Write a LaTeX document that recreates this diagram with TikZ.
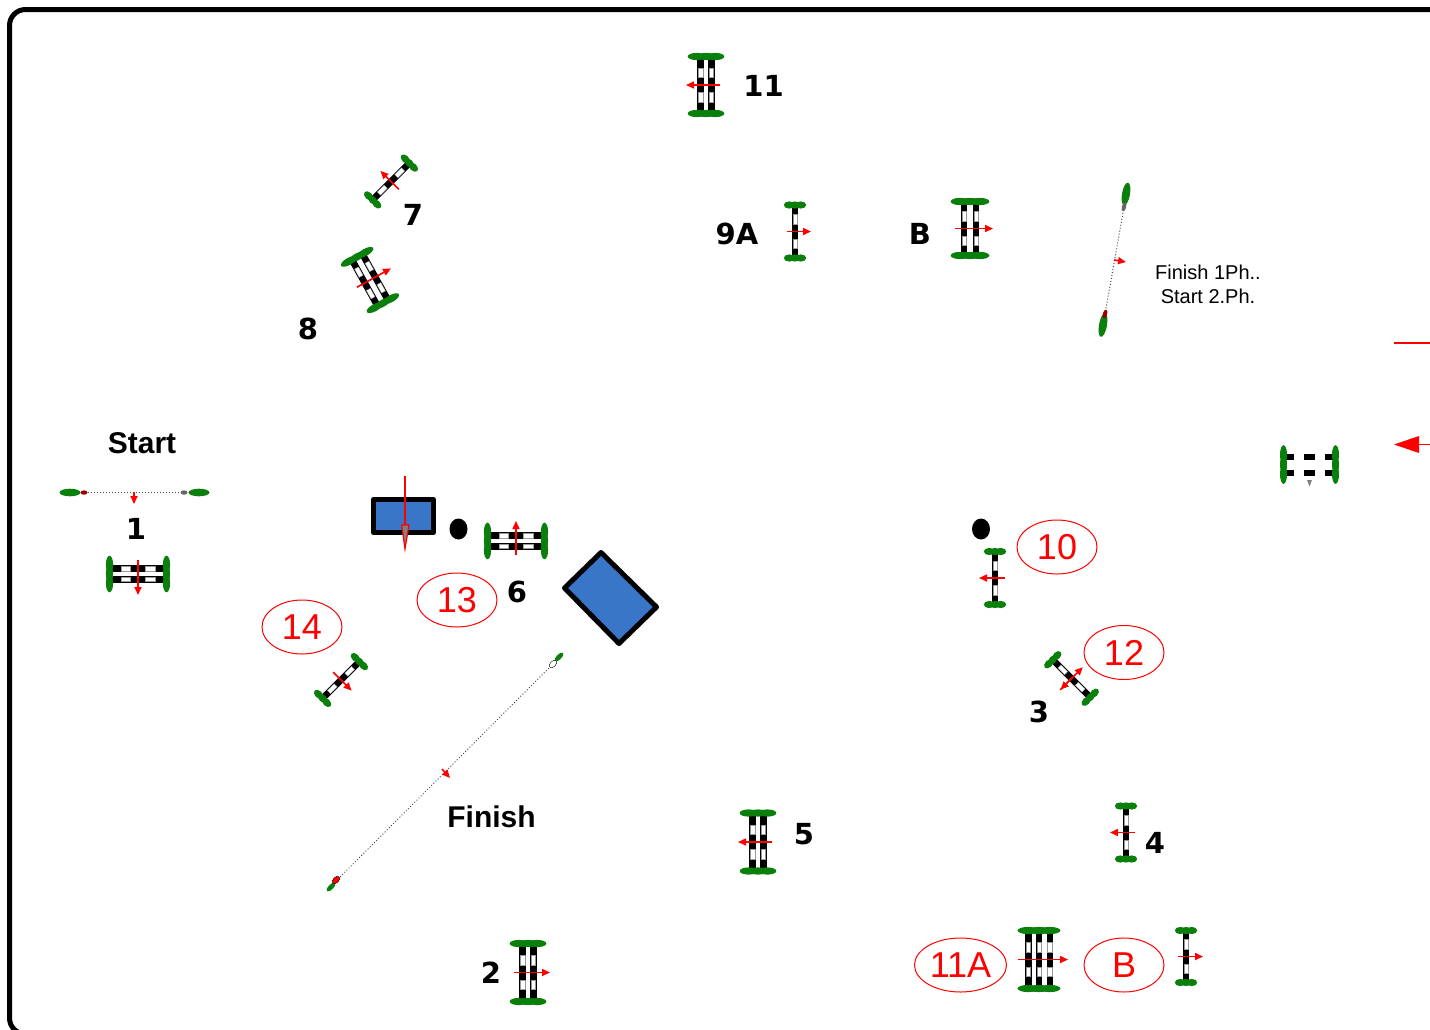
\documentclass[tikz,border=0pt]{standalone}
\usepackage{fontspec}
\setmainfont{Liberation Sans}
\newfontfamily\numfont{DejaVu Sans}
\usetikzlibrary{arrows.meta}
\usetikzlibrary{shapes.geometric}

\definecolor{wing}{HTML}{0B7F0B}
\definecolor{pool}{HTML}{3A76C8}

\tikzset{
  boldlabel/.style={font=\numfont\bfseries\fontsize{29}{29}\selectfont, text=black, inner sep=0pt},
  textlabel/.style={font=\bfseries\fontsize{30}{30}\selectfont, text=black, inner sep=0pt},
  notelabel/.style={font=\fontsize{20}{24}\selectfont, text=black, inner sep=0pt, align=center},
  redlabel/.style={draw=red, line width=1, ellipse, text=red, inner sep=0pt, minimum width=80, minimum height=54, font=\fontsize{36}{36}\selectfont},
  runarrow/.style={draw=red, line width=1.6, -{Triangle[length=8pt,width=7pt,fill=red]}},
  dotline/.style={draw=black!70, line width=1, dotted},
  poolbox/.style={draw=black, line width=5, fill=pool, line join=round},
  pics/fence/.style n args={6}{code={
    % #1 rails, #2 gap, #3 half length, #4 wing half width, #5,#6 arrow along local x
    \foreach \railno in {1,...,#1}{
      \pgfmathsetmacro{\xr}{(\railno-(#1+1)/2)*#2}
      \fill[black] (\xr-3.3,-#3) rectangle (\xr+3.3,#3);
      \foreach \sgn in {-1,1}{
        \fill[white,draw=black!40,line width=0.4] (\xr-2.2,\sgn*7.5) rectangle (\xr+2.2,\sgn*17);
      }
    }
    \foreach \endy in {-1,1}{
      \foreach \off in {-0.52,0,0.52}{
        \fill[wing] (\off*#4,\endy*#3+\endy*2.5) ellipse[x radius=#4*0.5,y radius=3.6];
      }
    }
    \draw[runarrow] (#5,0) -- (#6,0);
  }},
  pics/bars/.style={code={
    % the fence without windows or arrow, seen on the right
    \foreach \xr in {-8,8}{
      \foreach \ya/\yb in {-23.5/-15.5,-5.5/5.5,15.5/23.5}{
        \fill[black] (\xr-3,\ya) rectangle (\xr+3,\yb);
      }
    }
    \foreach \endy in {-1,1}{
      \foreach \off in {-0.52,0,0.52}{
        \fill[wing] (\off*19,\endy*26) ellipse[x radius=9.5,y radius=3.5];
      }
    }
  }},
}

\begin{document}
\begin{tikzpicture}[x=1pt,y=-1pt]
\useasboundingbox (0,0) rectangle (1430,1029);

\draw[line width=5, rounded corners=16] (9.5,9.5) rectangle (1460,1034);

% fences
\pic[rotate=180] at (706,85) {fence={2}{10.5}{26}{18}{-14}{20}};
\pic[rotate=135] at (391,181.5) {fence={1}{0}{23.5}{11}{-11}{15}};
\pic[rotate=29] at (370,280) {fence={2}{12}{24}{18}{-15}{24}};
\pic at (795,231.5) {fence={1}{0}{24}{11}{-8}{16}};
\pic at (970,228.5) {fence={2}{12}{24.5}{19}{-15}{23}};
\pic[rotate=-90] at (138,574) {fence={2}{10.5}{26}{18}{-14}{21}};
\pic[rotate=90] at (516,541) {fence={2}{10.5}{26}{18}{-14}{20}};
\pic[rotate=180] at (995,578) {fence={1}{0}{24}{11}{-10}{16}};
\pic[rotate=-45] at (341,680) {fence={1}{0}{23.5}{11}{-11}{15}};
\pic[rotate=180] at (1126,832.5) {fence={1}{0}{24}{11}{-9}{16}};
\pic[rotate=180] at (758,842) {fence={2}{10.5}{26.5}{18}{-14}{20}};
\pic at (528,972.5) {fence={2}{10.5}{26.5}{18}{-14}{22}};
\pic at (1039,959.5) {fence={3}{10.8}{26.5}{21}{-21}{29}};
\pic at (1186,956.5) {fence={1}{0}{23.5}{11}{-8}{17}};
\pic[rotate=45] at (1071.5,678.5) {fence={1}{0}{24}{11}{-16}{16}};
\draw[runarrow] (1072,678) -- (1060.7,689.5);

\pic[rotate=90] at (1309.5,464.5) {bars};
\fill[black!50] (1307,480) -- (1312,480) -- (1309.5,486.5) -- cycle;

% pools
\draw[poolbox] (373.5,499.5) rectangle (433.5,532.5);
\draw[poolbox] (601,552.5) -- (656.5,607) -- (619,643.5) -- (564.5,588) -- cycle;
\fill[black] (458.5,529) ellipse[x radius=9,y radius=10.5];
\fill[black] (981,529) ellipse[x radius=9,y radius=10.5];
\draw[red,line width=1.5] (405,476) -- (405,525);
\draw[red,line width=1.2,fill=black!50] (401.7,525) -- (409,525) -- (405,549) -- cycle;

% gates
\draw[dotline] (85,492.5) -- (184,492.5);
\foreach \xc in {70,199}{
  \fill[wing] (\xc,492.5) ellipse[x radius=10.5,y radius=3.8];
}
\fill[red!60!black] (84,492.5) ellipse[x radius=3.5,y radius=2.2];
\fill[black!60] (184,492.5) ellipse[x radius=3.5,y radius=2.2];
\draw[runarrow] (134,492) -- (134,504);

\draw[dotline] (1124,207) -- (1105,314);
\fill[wing,rotate around={80:(1126,194)}] (1126,194) ellipse[x radius=11.5,y radius=4];
\fill[wing,rotate around={80:(1103,325)}] (1103,325) ellipse[x radius=12,y radius=4];
\fill[black!60,rotate around={75:(1124,207)}] (1124,207) ellipse[x radius=4.5,y radius=2.2];
\fill[red!60!black,rotate around={75:(1105,314)}] (1105,314) ellipse[x radius=4.5,y radius=2.2];
\draw[runarrow] (1114,260) -- (1126,262);

\draw[dotline] (553,664) -- (334,883);
\fill[wing,rotate around={45:(559,657)}] (559,657) ellipse[x radius=6,y radius=2.4];
\fill[wing,rotate around={45:(331,887)}] (331,887) ellipse[x radius=6,y radius=2.4];
\draw[black,fill=white,rotate around={45:(553,664)}] (553,664) ellipse[x radius=4.5,y radius=2.8];
\draw[black,fill=red,rotate around={45:(336,880)}] (336,880) ellipse[x radius=4.5,y radius=2.8];
\draw[runarrow] (442,769) -- (450,778);

% lines on the right
\draw[red,line width=1.6] (1394,343) -- (1430,343);
\fill[red] (1394,444.5) -- (1419,436) -- (1419,453) -- cycle;
\draw[red,line width=1.6] (1419,444.5) -- (1430,444.5);

% numbers
\node[boldlabel] (n1) at (136,528.7) {1};
\node[boldlabel] (n2) at (491,972.7) {2};
\node[boldlabel] (n3) at (1039,711.7) {3};
\node[boldlabel] (n4) at (1155,842.7) {4};
\node[boldlabel] (n5) at (804,833.7) {5};
\node[boldlabel] (n6) at (517,591.7) {6};
\node[boldlabel] (n7) at (413,214.7) {7};
\node[boldlabel] (n8) at (308,328.7) {8};
\node[boldlabel] (n9a) at (737,233.7) {9A};
\node[boldlabel] (nb) at (920,233.7) {B};
\node[boldlabel] (n11) at (763.5,85.5) {11};
\node[textlabel] (start) at (142,443) {Start};
\node[textlabel] (finish) at (491.5,817) {Finish};
\node[notelabel] (note) at (1208,284.5) {Finish 1Ph..\\Start 2.Ph.};

% red marks
\node[redlabel] (r10) at (1057,547) {10};
\node[redlabel] (r12) at (1124,652.5) {12};
\node[redlabel] (r13) at (457,600) {13};
\node[redlabel] (r14) at (302,627) {14};
\node[redlabel,minimum width=92] (r11a) at (960.5,965) {11A};
\node[redlabel] (rb) at (1124,965) {B};

\end{tikzpicture}
\end{document}
